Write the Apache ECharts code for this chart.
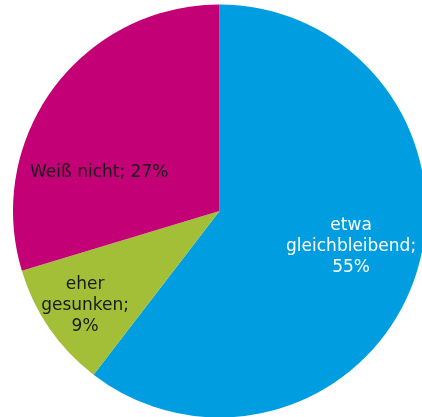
<!DOCTYPE html>
<html>
<head>
<meta charset="utf-8">
<script src="https://cdn.jsdelivr.net/npm/echarts@6/dist/echarts.min.js"></script>
<style>
  html, body { margin: 0; padding: 0; background: #fff; }
  #chart { width: 422px; height: 417px; }
</style>
</head>
<body>
<div id="chart"></div>
<script>
// Answer shares (percent), in clockwise order from 12 o'clock
const categories = ['etwa gleichbleibend', 'eher gesunken', 'Weiß nicht'];
const values = [55, 9, 27];
// Label text as shown inside each slice
const labelTexts = ['etwa\ngleichbleibend;\n55%', 'eher\ngesunken;\n9%', 'Weiß nicht; 27%'];

const colors = ['#009EE0', '#A3BE37', '#C30075'];
const textColors = ['#ffffff', '#1a1a1a', '#1a1a1a'];
// Nudges that move each inside label away from the slice's default anchor
const labelShift = [[31, 1], [-47, 34], [-35, 25]];

const chart = echarts.init(document.getElementById('chart'), null, { renderer: 'canvas' });

chart.setOption({
  animation: false,
  series: [{
    type: 'pie',
    center: [219.5, 211],
    radius: [0, 206.5],
    startAngle: 90,
    clockwise: true,
    avoidLabelOverlap: false,
    itemStyle: { borderWidth: 0 },
    emphasis: { disabled: true },
    label: {
      show: true,
      position: 'inside',
      fontFamily: '"DejaVu Sans", Verdana, sans-serif',
      fontSize: 17,
      lineHeight: 21,
      align: 'center'
    },
    labelLine: { show: false },
    labelLayout: function (params) {
      const s = labelShift[params.dataIndex];
      return { dx: s[0], dy: s[1] };
    },
    data: categories.map((name, i) => ({
      name: name,
      value: values[i],
      itemStyle: { color: colors[i] },
      label: {
        color: textColors[i],
        formatter: labelTexts[i]
      }
    }))
  }]
});
</script>
</body>
</html>
